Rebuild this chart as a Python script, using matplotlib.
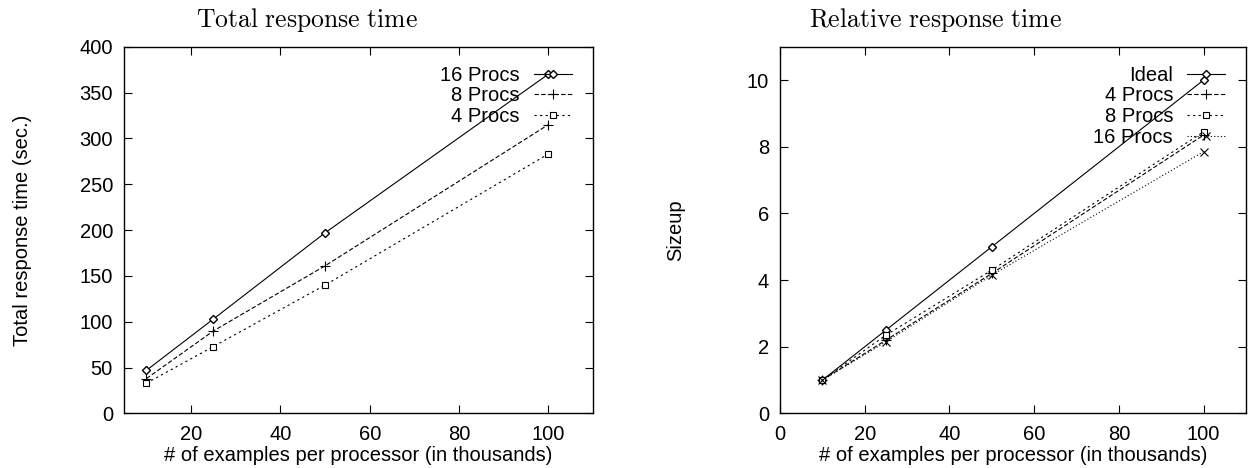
import matplotlib
matplotlib.use('Agg')
import matplotlib.pyplot as plt

plt.rcParams['font.family'] = ['Liberation Sans', 'DejaVu Sans']
plt.rcParams['mathtext.fontset'] = 'cm'
plt.rcParams['font.size'] = 14.5

# examples per processor (thousands)
sizes = [10, 25, 50, 100]

# total response time (sec.)
total_16 = [47, 103, 197, 370]
total_8 = [38, 90, 161, 315]
total_4 = [33, 73, 140, 283]

# sizeup
ideal = [1, 2.5, 5, 10]
sizeup_4 = [1, 2.2, 4.2, 8.35]
sizeup_8 = [1, 2.35, 4.3, 8.45]
sizeup_16 = [1, 2.15, 4.15, 7.85]

fig = plt.figure(figsize=(12.48, 4.68), dpi=100)
ax1 = fig.add_axes([0.0994, 0.1165, 0.3758, 0.7838])
ax2 = fig.add_axes([0.625, 0.1165, 0.3734, 0.7838])

lw = 0.8
ax1.plot(sizes, total_16, color='black', lw=lw, ls='-', marker='D', ms=4, mfc='white', mew=1, label='16 Procs')
ax1.plot(sizes, total_8, color='black', lw=lw, ls=(0, (4, 2)), marker='+', ms=6.5, mew=0.8, label='8 Procs')
ax1.plot(sizes, total_4, color='black', lw=lw, ls=(0, (2, 3)), marker='s', ms=5, mfc='white', mew=0.8, label='4 Procs')

ax2.plot(sizes, ideal, color='black', lw=lw, ls='-', marker='D', ms=4, mfc='white', mew=1, label='Ideal')
ax2.plot(sizes, sizeup_4, color='black', lw=lw, ls=(0, (4, 2)), marker='+', ms=6.5, mew=0.8, label='4 Procs')
ax2.plot(sizes, sizeup_8, color='black', lw=lw, ls=(0, (2, 3)), marker='s', ms=5, mfc='white', mew=0.8, label='8 Procs')
ax2.plot(sizes, sizeup_16, color='black', lw=lw, ls=(0, (1, 2)), marker='x', ms=5.5, mew=0.8, label='16 Procs')

ax1.set_xlim(5, 110)
ax1.set_ylim(0, 400)
ax1.set_xticks([20, 40, 60, 80, 100])
ax1.set_yticks(range(0, 401, 50))
ax2.set_xlim(0, 110)
ax2.set_ylim(0, 11)
ax2.set_xticks([0, 20, 40, 60, 80, 100])
ax2.set_yticks([0, 2, 4, 6, 8, 10])

for ax in (ax1, ax2):
    ax.tick_params(direction='in', top=True, right=True, length=6, width=0.8, pad=8)
    for s in ax.spines.values():
        s.set_linewidth(1)
    ax.set_xlabel('# of examples per processor (in thousands)', labelpad=2)
    ax.legend(loc='upper right', bbox_to_anchor=(0.955, 0.948), frameon=False, markerfirst=False,
              borderpad=0, borderaxespad=0, handlelength=1.9, handletextpad=0.68, labelspacing=0.08)

ax1.set_ylabel('Total response time (sec.)')
ax1.yaxis.set_label_coords(-0.196, 0.5)
ax2.set_ylabel('Sizeup')
ax2.yaxis.set_label_coords(-0.204, 0.5)

fig.text(0.246, 0.957, r'$\mathrm{Total\ response\ time}$', ha='center', va='center', fontsize=18.5)
fig.text(0.75, 0.957, r'$\mathrm{Relative\ response\ time}$', ha='center', va='center', fontsize=18.5)

fig.savefig('out.png', dpi=100)
